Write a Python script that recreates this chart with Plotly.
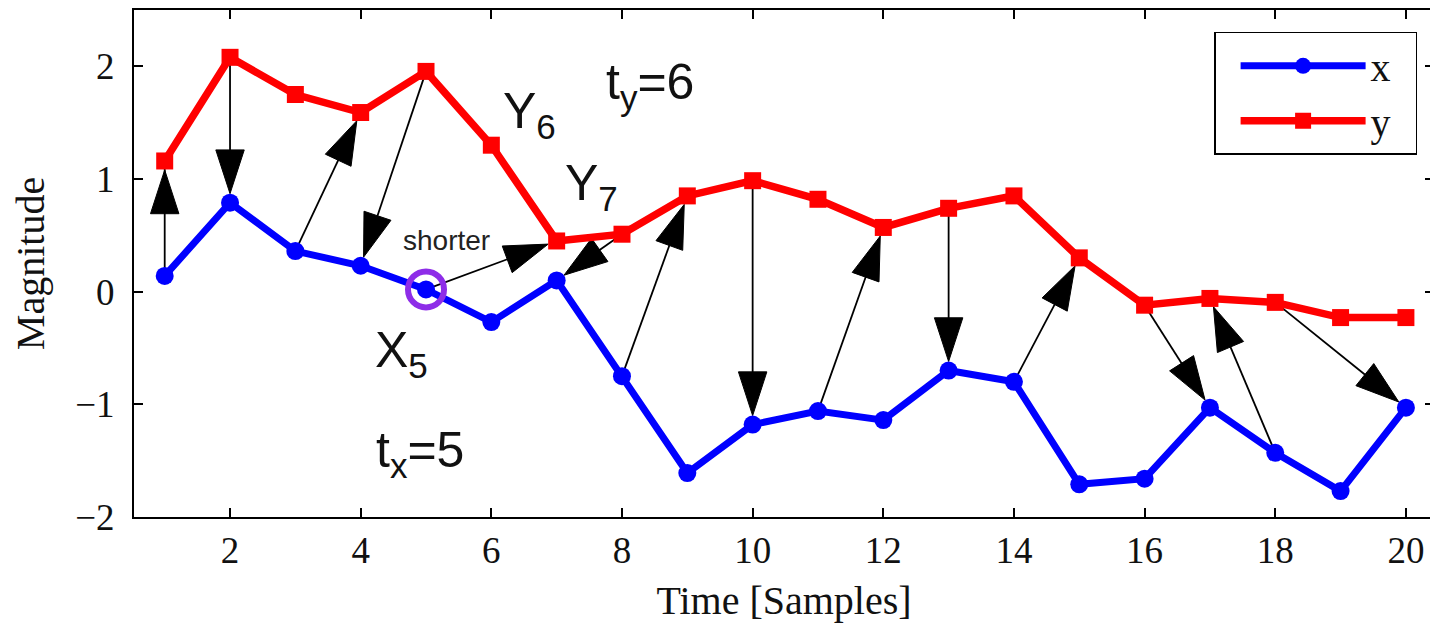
import plotly.graph_objects as go

# ---- data ----
t = list(range(1, 21))
x_vals = [0.14, 0.79, 0.36, 0.23, 0.02, -0.27, 0.10, -0.75, -1.61, -1.18,
          -1.06, -1.14, -0.70, -0.80, -1.71, -1.66, -1.03, -1.43, -1.77, -1.03]
y_vals = [1.16, 2.08, 1.75, 1.59, 1.955, 1.30, 0.45, 0.51, 0.85, 0.985,
          0.82, 0.57, 0.74, 0.85, 0.30, -0.12, -0.06, -0.095, -0.23, -0.23]

# DTW-like alignment arrows: (start series, start t) -> (end series, end t)
arrow_start_series = ['x', 'y', 'x', 'y', 'x', 'y', 'x', 'y', 'x', 'y', 'x', 'y', 'x', 'y']
arrow_start_t      = [1, 2, 3, 5, 5, 8, 8, 10, 11, 13, 14, 16, 18, 18]
arrow_end_series   = ['y', 'x', 'y', 'x', 'y', 'x', 'y', 'x', 'y', 'x', 'y', 'x', 'y', 'x']
arrow_end_t        = [1, 2, 4, 4, 7, 7, 9, 10, 12, 13, 15, 17, 17, 20]

highlight_t = 5
x_ticks = [2, 4, 6, 8, 10, 12, 14, 16, 18, 20]
y_ticks = [-2, -1, 0, 1, 2]

series = {'x': x_vals, 'y': y_vals}

SERIF = "Liberation Serif, Times New Roman, serif"
SANS = "Liberation Sans, Arial, sans-serif"

fig = go.Figure()

# arrows (under data)
for ss, st, es, et in zip(arrow_start_series, arrow_start_t, arrow_end_series, arrow_end_t):
    fig.add_trace(go.Scatter(
        x=[st, et], y=[series[ss][st - 1], series[es][et - 1]],
        mode='lines+markers',
        line=dict(color='black', width=1.8),
        marker=dict(symbol='arrow', size=[0, 46], color='#000000', opacity=1,
                    line=dict(color='#000000', width=1),
                    angleref='previous', standoff=9),
        opacity=1,
        showlegend=False, hoverinfo='skip'))

fig.add_trace(go.Scatter(
    x=t, y=x_vals, name='x\u00a0\u00a0', mode='lines+markers',
    line=dict(color='#0000FF', width=7),
    marker=dict(symbol='circle', size=18, color='#0000FF')))
fig.add_trace(go.Scatter(
    x=t, y=y_vals, name='y\u00a0\u00a0', mode='lines+markers',
    line=dict(color='#FF0000', width=7.5),
    marker=dict(symbol='square', size=17, color='#FF0000')))

# highlighted point
fig.add_trace(go.Scatter(
    x=[highlight_t], y=[x_vals[highlight_t - 1]], mode='markers',
    marker=dict(symbol='circle-open', size=36, color='#8E2DE8', line=dict(width=6)),
    showlegend=False, hoverinfo='skip'))

ann_font = dict(family=SANS, size=50, color='#111111')
annotations = [
    dict(x=5.32, y=0.45, text='shorter', font=dict(family=SANS, size=28, color='#222222')),
    dict(x=6.59, y=1.57, text='Y<sub>6</sub>', font=ann_font),
    dict(x=8.43, y=1.83, text='t<sub>y</sub>=6', font=ann_font),
    dict(x=7.54, y=0.93, text='Y<sub>7</sub>', font=ann_font),
    dict(x=4.63, y=-0.55, text='X<sub>5</sub>', font=ann_font),
    dict(x=4.91, y=-1.44, text='t<sub>x</sub>=5', font=ann_font),
]
for a in annotations:
    a.update(xref='x', yref='y', showarrow=False, xanchor='center', yanchor='middle')

axis_common = dict(showline=True, linecolor='black', linewidth=2, mirror='ticks',
                   ticks='inside', ticklen=9, tickwidth=1.5, tickcolor='black',
                   showgrid=False, zeroline=False, automargin=False,
                   tickfont=dict(family=SERIF, size=37, color='#111111'))

# page body has an 8px margin, so the figure is sized/offset to compensate
fig.update_layout(
    width=1430, height=618,
    margin=dict(l=126, r=4, t=2, b=109),
    plot_bgcolor='white', paper_bgcolor='white',
    xaxis=dict(range=[0.53, 20.43], tickvals=x_ticks, ticklabelstandoff=0,
               title=dict(text='Time [Samples]', font=dict(family=SERIF, size=40, color='#111111'),
                          standoff=16),
               **axis_common),
    yaxis=dict(range=[-2, 2.5], tickvals=y_ticks, ticklabelstandoff=10,
               title=dict(text='Magnitude', font=dict(family=SERIF, size=40, color='#111111'),
                          standoff=20),
               **axis_common),
    legend=dict(x=0.987, y=0.957, xanchor='right', yanchor='top',
                bordercolor='black', borderwidth=1.5, bgcolor='white',
                font=dict(family=SERIF, size=40, color='#111111'),
                itemwidth=125, indentation=20, tracegroupgap=0),
    annotations=annotations,
    showlegend=True,
)

fig.write_html("out.html")
